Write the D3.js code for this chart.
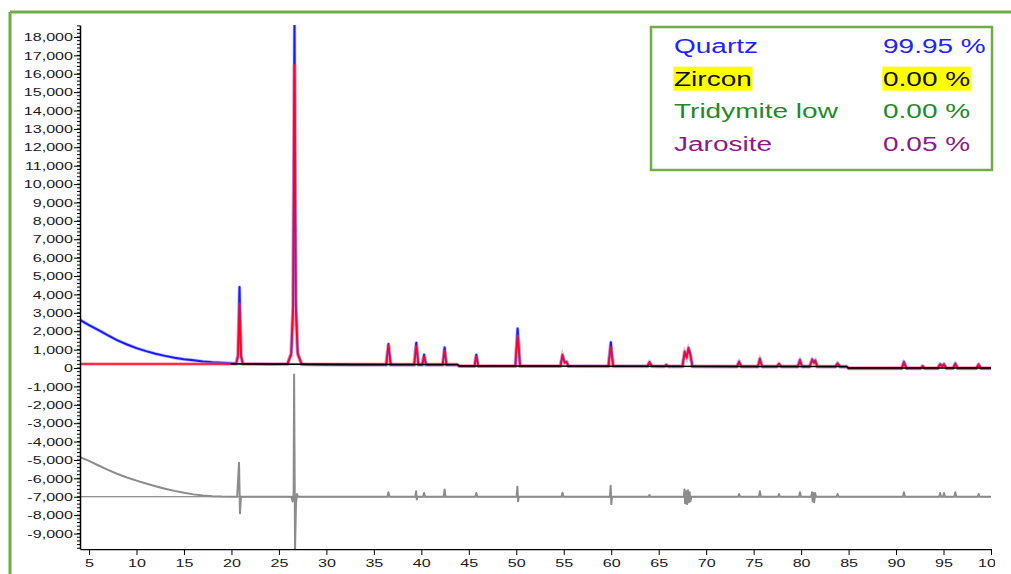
<!DOCTYPE html>
<html>
<head>
<meta charset="utf-8">
<script src="https://cdn.jsdelivr.net/npm/d3@7"></script>
<style>
  body { margin: 0; background: #fff; }
  text { font-family: Arial, "Liberation Sans", sans-serif; }
</style>
</head>
<body>
<svg id="chart" width="1011" height="574"></svg>
<script>
// XRD pattern, 2-theta vs counts

var xTicks = [5, 10, 15, 20, 25, 30, 35, 40, 45, 50, 55, 60, 65, 70, 75, 80, 85, 90, 95, 100];
var yTicks = [-9000, -8000, -7000, -6000, -5000, -4000, -3000, -2000, -1000, 0,
              1000, 2000, 3000, 4000, 5000, 6000, 7000, 8000, 9000, 10000,
              11000, 12000, 13000, 14000, 15000, 16000, 17000, 18000];

var phaseNames = ["Quartz", "Zircon", "Tridymite low", "Jarosite"];
var phasePct = ["99.95 %", "0.00 %", "0.00 %", "0.05 %"];

// observed counts
var observed = [
    [4.05, 2620], [4.5, 2480], [5, 2330], [6, 2060], [7, 1780], [8, 1500], [9, 1280], [10, 1080],
    [11, 920], [12, 780], [13, 660], [14, 560], [15, 480], [16, 420], [17, 360], [18, 315], [19, 285], [20, 265],
    [20.5, 250], [20.7, 700], [20.85, 4400], [21.0, 700], [21.2, 230], [22, 215], [24, 205],
    [25.9, 220], [26.3, 800], [26.5, 3500], [26.64, 18700], [26.78, 3500], [26.98, 800], [27.4, 210],
    [28, 190], [30, 175], [33, 165], [36.3, 165], [36.54, 1300], [36.78, 165],
    [39.25, 160], [39.47, 1380], [39.7, 170], [40.1, 165], [40.29, 720], [40.5, 160],
    [42.25, 160], [42.45, 1120], [42.65, 160], [43.8, 160], [44, 95], [45.6, 95], [45.79, 720], [46, 95],
    [49.9, 95], [50.14, 2150], [50.4, 100], [54.65, 95], [54.87, 720], [55.1, 300], [55.3, 340], [55.5, 90],
    [59.7, 90], [59.96, 1400], [60.2, 95], [63.8, 90], [64.03, 320], [64.3, 90], [65.6, 85], [65.8, 170], [66, 85],
    [67.5, 85], [67.74, 900], [67.95, 600], [68.14, 1100], [68.32, 800], [68.55, 85],
    [73.25, 75], [73.47, 350], [73.7, 75], [75.45, 75], [75.66, 520], [75.9, 75],
    [77.45, 70], [77.67, 230], [77.9, 70], [79.65, 70], [79.88, 450], [80.1, 70],
    [80.9, 70], [81.17, 480], [81.35, 300], [81.49, 420], [81.7, 70], [83.6, 65], [83.84, 260], [84.1, 65],
    [84.8, 60], [85, -20], [90.6, -20], [90.83, 350], [91.1, -20], [92.6, -20], [92.79, 110], [93, -20],
    [94.4, -20], [94.64, 220], [94.85, 100], [95.05, 220], [95.3, -20], [96, -20], [96.24, 260], [96.5, -20],
    [98.45, -20], [98.7, 210], [98.95, -20], [100, -20]
];

// calculated profile
var calculated = [
    [4.05, 220], [19.9, 225], [20.5, 230], [20.7, 650], [20.85, 3550], [21.0, 650], [21.2, 225],
    [25.9, 215], [26.3, 750], [26.5, 3200], [26.64, 16500], [26.78, 3200], [26.98, 750], [27.4, 210],
    [30, 200], [36.3, 195], [36.54, 1250], [36.78, 195], [39.25, 190], [39.47, 1220], [39.7, 190],
    [40.1, 190], [40.29, 650], [40.5, 190], [42.25, 190], [42.45, 950], [42.65, 190], [43.8, 190],
    [44, 110], [45.6, 110], [45.79, 650], [46, 110], [49.9, 110], [50.14, 1800], [50.4, 110],
    [54.65, 110], [54.87, 650], [55.1, 280], [55.3, 320], [55.5, 110], [59.7, 100], [59.96, 1150], [60.2, 100],
    [63.8, 100], [64.03, 300], [64.3, 100], [65.6, 100], [65.8, 160], [66, 100],
    [67.5, 100], [67.74, 820], [67.95, 560], [68.14, 1000], [68.32, 750], [68.55, 100],
    [73.25, 95], [73.47, 320], [73.7, 95], [75.45, 95], [75.66, 430], [75.9, 95],
    [77.45, 90], [77.67, 220], [77.9, 90], [79.65, 90], [79.88, 380], [80.1, 90],
    [80.9, 90], [81.17, 420], [81.35, 280], [81.49, 380], [81.7, 90], [83.6, 85], [83.84, 240], [84.1, 85],
    [84.8, 80], [85, 0], [90.6, 0], [90.83, 260], [91.1, 0], [92.6, 0], [92.79, 90], [93, 0],
    [94.4, 0], [94.64, 170], [94.85, 80], [95.05, 180], [95.3, 0], [96, 0], [96.24, 200], [96.5, 0],
    [98.45, 0], [98.7, 150], [98.95, 0], [100, 0]
];

// background
var background = [[19.9, 225], [30, 200], [43.8, 190], [44, 110], [84.8, 80], [85, 0], [100, 0]];

// difference curve, plotted with its zero at -7000
var diffZero = -7000;
var difference = [
    [4.05, -4850], [5, -5050], [6, -5300], [7, -5540], [8, -5760], [9, -5950], [10, -6120],
    [11, -6280], [12, -6430], [13, -6560], [14, -6680], [15, -6780], [16, -6870], [17, -6930],
    [18, -6970], [19, -6990], [20.6, -7000], [20.8, -5150], [20.9, -7900], [21.0, -7000],
    [26.3, -7000], [26.45, -7250], [26.55, -6800], [26.6, -350], [26.7, -9850], [26.8, -7350], [26.9, -6850], [27.0, -7000],
    [36.44, -7000], [36.54, -6750], [36.64, -7000], [39.37, -7000], [39.45, -6700], [39.52, -7150], [39.6, -7000],
    [40.19, -7000], [40.29, -6800], [40.39, -7000], [42.35, -7000], [42.45, -6600], [42.55, -7000],
    [45.69, -7000], [45.79, -6800], [45.89, -7000], [50.04, -7000], [50.12, -6450], [50.19, -7250], [50.26, -7000],
    [54.77, -7000], [54.87, -6780], [54.97, -7000], [59.86, -7000], [59.94, -6400], [60.01, -7400], [60.08, -7000],
    [63.93, -7000], [64.03, -6900], [64.13, -7000], [67.64, -7000], [67.72, -6600], [67.78, -7350], [67.9, -6700],
    [67.98, -7400], [68.08, -6650], [68.16, -7300], [68.26, -6750], [68.34, -7250], [68.44, -7000],
    [73.37, -7000], [73.47, -6850], [73.57, -7000], [75.56, -7000], [75.66, -6700], [75.76, -7000],
    [77.57, -7000], [77.67, -6850], [77.77, -7000], [79.78, -7000], [79.88, -6750], [79.98, -7000],
    [81.07, -7000], [81.15, -6750], [81.22, -7250], [81.3, -6800], [81.38, -7300], [81.47, -6800], [81.57, -7000],
    [83.74, -7000], [83.84, -6850], [83.94, -7000], [90.73, -7000], [90.83, -6750], [90.93, -7000],
    [94.54, -7000], [94.64, -6800], [94.74, -7000], [94.95, -7000], [95.05, -6800], [95.15, -7000],
    [96.14, -7000], [96.24, -6750], [96.34, -7000], [98.6, -7000], [98.7, -6850], [98.8, -7000], [100, -7000]
];

var phaseColors = ["#2222ff", "#111111", "#1e8a2a", "#8b1a8b"];

var svg = d3.select("#chart");
var plotLeft = 80, plotRight = 991, plotTop = 25, plotBottom = 549;
var stretch = 1.4;  // the source image is stretched sideways

var x = d3.scaleLinear().domain([4.05, 100]).range([plotLeft, plotRight]);
var y = d3.scaleLinear().domain([-9840, 18650]).range([plotBottom, plotTop]);

// outer green frame (top and left edges only, the rest is cropped)
svg.append("line").attr("x1", 10).attr("x2", 1011).attr("y1", 12).attr("y2", 12)
    .attr("stroke", "#70ad47").attr("stroke-width", 3);
svg.append("line").attr("x1", 10).attr("x2", 10).attr("y1", 12).attr("y2", 574)
    .attr("stroke", "#70ad47").attr("stroke-width", 3);

svg.append("clipPath").attr("id", "plot")
  .append("rect").attr("x", plotLeft).attr("y", plotTop)
    .attr("width", plotRight - plotLeft + 1).attr("height", plotBottom - plotTop);

var plot = svg.append("g").attr("clip-path", "url(#plot)");

var line = d3.line().x(function (d) { return x(d[0]); }).y(function (d) { return y(d[1]); });

// difference zero line
plot.append("line")
    .attr("x1", plotLeft).attr("x2", plotRight).attr("y1", y(diffZero)).attr("y2", y(diffZero))
    .attr("stroke", "#707070").attr("stroke-width", 1);

plot.append("path").datum(difference).attr("d", line)
    .attr("fill", "none").attr("stroke", "#8c8c8c").attr("stroke-width", 2)
    .attr("stroke-linejoin", "round");

plot.append("path").datum(observed).attr("d", line)
    .attr("fill", "none").attr("stroke", "#8080ff").attr("stroke-width", 3.5).attr("opacity", 0.5)
    .attr("stroke-linejoin", "round");
plot.append("path").datum(observed).attr("d", line)
    .attr("fill", "none").attr("stroke", "#1a1aff").attr("stroke-width", 2)
    .attr("stroke-linejoin", "round");

plot.append("path").datum(calculated).attr("d", line)
    .attr("fill", "none").attr("stroke", "#ff6a88").attr("stroke-width", 4).attr("opacity", 0.45);
plot.append("path").datum(calculated).attr("d", line)
    .attr("fill", "none").attr("stroke", "#ff0022").attr("stroke-width", 1.5);

plot.append("path").datum(background).attr("d", line)
    .attr("fill", "none").attr("stroke", "#000").attr("stroke-width", 1.6);

// y axis
var fmt = function (d) { return d3.format(",")(d).replace("\u2212", "-"); };
var yAxis = svg.append("g").attr("transform", "translate(" + plotLeft + ",0)")
    .call(d3.axisLeft(y).tickValues(yTicks).tickFormat(fmt).tickSize(6).tickSizeOuter(0));
yAxis.select(".domain").attr("stroke", "#000").attr("stroke-width", 1.5);
yAxis.selectAll("text").attr("x", -5).attr("transform", "scale(" + stretch + ",1)")
    .attr("font-size", 11.5).attr("fill", "#1a1a1a").attr("font-family", null);

yAxis.selectAll(".minor").data(d3.range(-9800, 18601, 200)).enter()
    .append("line").attr("class", "minor")
    .attr("x1", -3).attr("x2", 0)
    .attr("y1", function (d) { return y(d); }).attr("y2", function (d) { return y(d); })
    .attr("stroke", "#000").attr("stroke-width", 1);

// x axis (the last label is cut by the image edge)
svg.append("clipPath").attr("id", "xclip")
  .append("rect").attr("x", 0).attr("y", 0).attr("width", 995).attr("height", 574);

var xAxis = svg.append("g").attr("transform", "translate(0," + plotBottom + ")")
    .attr("clip-path", "url(#xclip)")
    .call(d3.axisBottom(x).tickValues(xTicks).tickSize(6).tickSizeOuter(0));
xAxis.select(".domain").attr("stroke", "#000").attr("stroke-width", 1.5);
xAxis.selectAll(".tick line").attr("y1", -3);
xAxis.selectAll("text").attr("y", 10).attr("x", 0)
    .attr("transform", "scale(" + stretch + ",1)")
    .attr("font-size", 11.5).attr("fill", "#1a1a1a").attr("font-family", null);

xAxis.selectAll(".minor").data(d3.range(5, 100, 1)).enter()
    .append("line").attr("class", "minor")
    .attr("x1", function (d) { return x(d); }).attr("x2", function (d) { return x(d); })
    .attr("y1", -3).attr("y2", 0)
    .attr("stroke", "#000").attr("stroke-width", 1);

// legend box
var legend = svg.append("g");
legend.append("rect").attr("x", 651).attr("y", 27).attr("width", 341).attr("height", 143)
    .attr("fill", "#fff").attr("stroke", "#70ad47").attr("stroke-width", 2.5);

phaseNames.forEach(function (name, i) {
    var baseY = 53 + i * 32.7;
    [[674, name], [883, phasePct[i]]].forEach(function (p) {
        var g = legend.append("g").attr("transform", "translate(" + p[0] + "," + baseY + ") scale(" + stretch + ",1)");
        var t = g.append("text").attr("font-size", 20).attr("fill", phaseColors[i]).text(p[1]);
        if (name === "Zircon") {
            var b = t.node().getBBox();
            g.insert("rect", "text").attr("x", b.x - 0.5).attr("y", -19)
                .attr("width", b.width + 1).attr("height", 24).attr("fill", "#ffff00");
        }
    });
});
</script>
</body>
</html>
